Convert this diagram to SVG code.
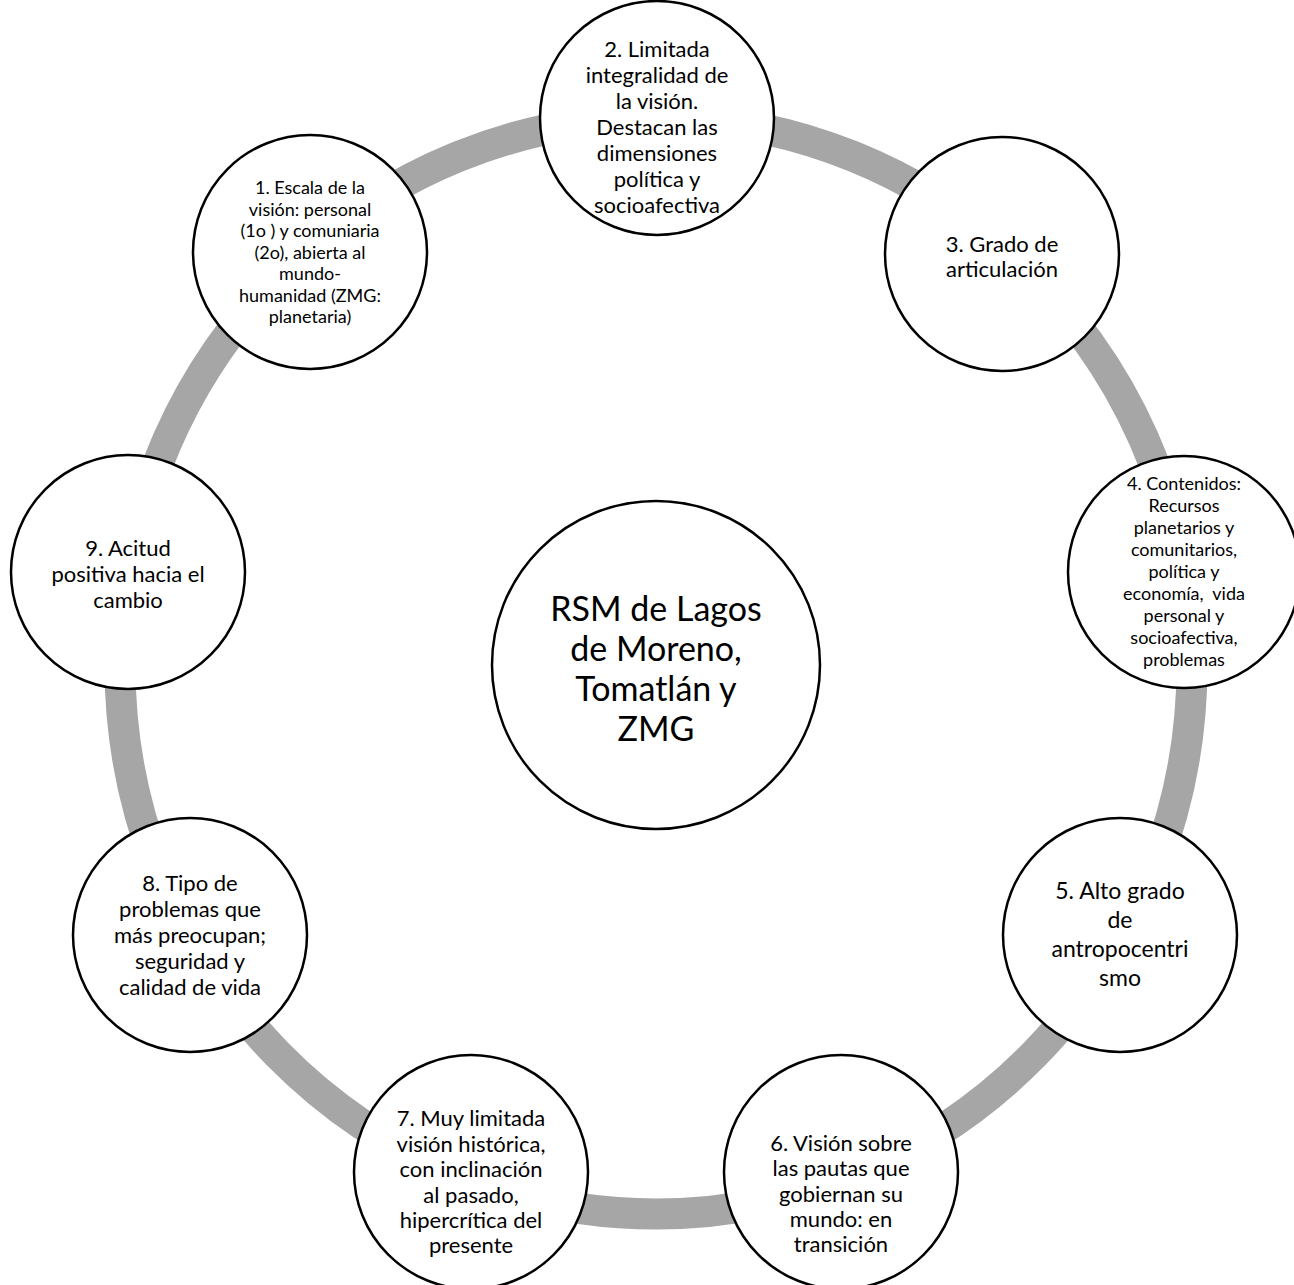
<svg xmlns="http://www.w3.org/2000/svg" width="1294" height="1285" viewBox="0 0 1294 1285">
<style>
.node{fill:#fff;stroke:#000;stroke-width:2.5}
.t{font-family:Lato,"Liberation Sans",sans-serif;fill:#000;text-anchor:middle;dominant-baseline:central;white-space:pre}
.s18{font-size:18px}
.s22{font-size:22px}
.s23{font-size:23px}
.s34{font-size:34px}
</style>
<rect width="1294" height="1285" fill="#fff"/>
<g id="connectors">
<ellipse cx="656" cy="666" rx="536" ry="548" fill="none" stroke="#a6a6a6" stroke-width="31"/>
</g>
<g id="center">
<circle class="node" cx="656" cy="665" r="164"/>
<text class="t s34"><tspan x="656" y="607">RSM de Lagos</tspan><tspan x="656" y="647">de Moreno,</tspan><tspan x="656" y="687">Tomatlán y</tspan><tspan x="656" y="727">ZMG</tspan></text>
</g>
<g id="n1">
<circle class="node" cx="310" cy="252" r="117"/>
<text class="t s18"><tspan x="310" y="187">1. Escala de la</tspan><tspan x="310" y="208.5">visión: personal</tspan><tspan x="310" y="230">(1o ) y comuniaria</tspan><tspan x="310" y="251.5">(2o), abierta al</tspan><tspan x="310" y="273">mundo-</tspan><tspan x="310" y="294.5">humanidad (ZMG:</tspan><tspan x="310" y="316">planetaria)</tspan></text>
</g>
<g id="n2">
<circle class="node" cx="657" cy="118" r="117"/>
<text class="t s22"><tspan x="657" y="48">2. Limitada</tspan><tspan x="657" y="74">integralidad de</tspan><tspan x="657" y="100">la visión.</tspan><tspan x="657" y="126">Destacan las</tspan><tspan x="657" y="152">dimensiones</tspan><tspan x="657" y="178">política y</tspan><tspan x="657" y="204">socioafectiva</tspan></text>
</g>
<g id="n3">
<circle class="node" cx="1002" cy="254" r="117"/>
<text class="t s22"><tspan x="1002" y="243">3. Grado de</tspan><tspan x="1002" y="268">articulación</tspan></text>
</g>
<g id="n4">
<circle class="node" cx="1184" cy="572" r="116"/>
<text class="t s18" xml:space="preserve"><tspan x="1184" y="483">4. Contenidos:</tspan><tspan x="1184" y="505">Recursos</tspan><tspan x="1184" y="527">planetarios y</tspan><tspan x="1184" y="549">comunitarios,</tspan><tspan x="1184" y="571">política y</tspan><tspan x="1184" y="593">economía,  vida</tspan><tspan x="1184" y="615">personal y</tspan><tspan x="1184" y="637">socioafectiva,</tspan><tspan x="1184" y="659">problemas</tspan></text>
</g>
<g id="n5">
<circle class="node" cx="1120" cy="935" r="117"/>
<text class="t s23"><tspan x="1120" y="890">5. Alto grado</tspan><tspan x="1120" y="919">de</tspan><tspan x="1120" y="948">antropocentri</tspan><tspan x="1120" y="977">smo</tspan></text>
</g>
<g id="n6">
<circle class="node" cx="841" cy="1172" r="117"/>
<text class="t s22"><tspan x="841" y="1142">6. Visión sobre</tspan><tspan x="841" y="1167">las pautas que</tspan><tspan x="841" y="1193">gobiernan su</tspan><tspan x="841" y="1218">mundo: en</tspan><tspan x="841" y="1243">transición</tspan></text>
</g>
<g id="n7">
<circle class="node" cx="471" cy="1172" r="117"/>
<text class="t s22"><tspan x="471" y="1117">7. Muy limitada</tspan><tspan x="471" y="1143">visión histórica,</tspan><tspan x="471" y="1168">con inclinación</tspan><tspan x="471" y="1194">al pasado,</tspan><tspan x="471" y="1219">hipercrítica del</tspan><tspan x="471" y="1244">presente</tspan></text>
</g>
<g id="n8">
<circle class="node" cx="190" cy="935" r="117"/>
<text class="t s22"><tspan x="190" y="882">8. Tipo de</tspan><tspan x="190" y="908">problemas que</tspan><tspan x="190" y="934">más preocupan;</tspan><tspan x="190" y="960">seguridad y</tspan><tspan x="190" y="986">calidad de vida</tspan></text>
</g>
<g id="n9">
<circle class="node" cx="128" cy="572" r="117"/>
<text class="t s22"><tspan x="128" y="547">9. Acitud</tspan><tspan x="128" y="573">positiva hacia el</tspan><tspan x="128" y="599">cambio</tspan></text>
</g>
</svg>
